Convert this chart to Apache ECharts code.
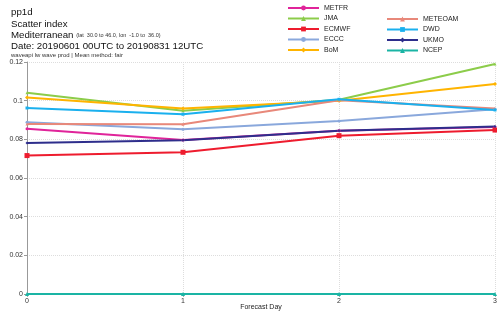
<!DOCTYPE html>
<html>
<head>
<meta charset="utf-8">
<script src="https://cdn.jsdelivr.net/npm/echarts@6/dist/echarts.min.js"></script>
<style>
  html, body { margin: 0; padding: 0; background: #fff; }
  #chart { width: 497px; height: 316px; }
</style>
</head>
<body>
<div id="chart"></div>
<script>
const days = [0, 1, 2, 3]
const yTicks = [0, 0.02, 0.04, 0.06, 0.08, 0.1, 0.12]

const metfr = [0.0855, 0.0797, 0.0845, 0.0864]
const jma = [0.1041, 0.0948, 0.1005, 0.119]
const ecmwf = [0.0716, 0.0733, 0.0819, 0.0848]
const eccc = [0.0888, 0.0852, 0.0895, 0.0955]
const bom = [0.1016, 0.0959, 0.0999, 0.1086]
const meteoam = [0.0879, 0.0878, 0.1002, 0.0959]
const dwd = [0.0962, 0.093, 0.1007, 0.0952]
const ukmo = [0.0781, 0.0795, 0.0845, 0.0866]
const ncep = [0, 0, 0, 0]

const models = [
  { name: 'METFR', data: metfr, color: '#e0249a', symbol: 'circle', size: 3 },
  { name: 'JMA', data: jma, color: '#8ccc4a', symbol: 'triangle', size: 3 },
  { name: 'ECMWF', data: ecmwf, color: '#ee1c2e', symbol: 'rect', size: 5 },
  { name: 'ECCC', data: eccc, color: '#8aa8dc', symbol: 'circle', size: 3 },
  { name: 'BoM', data: bom, color: '#ffb400', symbol: 'diamond', size: 4 },
  { name: 'METEOAM', data: meteoam, color: '#e8887a', symbol: 'triangle', size: 3 },
  { name: 'DWD', data: dwd, color: '#1ab0ee', symbol: 'rect', size: 3 },
  { name: 'UKMO', data: ukmo, color: '#2e2e8c', symbol: 'diamond', size: 3 },
  { name: 'NCEP', data: ncep, color: '#1ab4a4', symbol: 'triangle', size: 4 }
]

const chart = echarts.init(document.getElementById('chart'))

const legendText = { fontSize: 7, color: '#222', fontFamily: 'Liberation Sans' }
const titleFont = { fontSize: 9.7, fontWeight: 'normal', fontFamily: 'Liberation Sans', color: '#111' }

// one title per header line, so the line spacing stays tight
const titleLine = (top, text, style) => ({
  left: 11, top: top, padding: 0, text: text,
  textStyle: Object.assign({}, titleFont, style || {})
})

const option = {
  animation: false,
  title: [
    titleLine(7.5, 'pp1d'),
    titleLine(19, 'Scatter index'),
    titleLine(30.5, '{a|Mediterranean} {s|(lat  30.0 to 46.0, lon  -1.0 to  36.0)}', {
      rich: {
        a: { fontSize: 9.7, fontFamily: 'Liberation Sans', color: '#111' },
        s: { fontSize: 5.5, fontFamily: 'Liberation Sans', color: '#333' }
      }
    }),
    titleLine(41.5, 'Date: 20190601 00UTC to 20190831 12UTC'),
    titleLine(52.5, 'waveapi lw wave prod | Mean method: fair', { fontSize: 6, color: '#333' })
  ],
  legend: [
    {
      orient: 'vertical',
      left: 287,
      top: 4.5,
      padding: 0,
      itemWidth: 31,
      itemHeight: 6,
      itemGap: 3.5,
      textStyle: legendText,
      data: ['METFR', 'JMA', 'ECMWF', 'ECCC', 'BoM']
    },
    {
      orient: 'vertical',
      left: 386,
      top: 15.5,
      padding: 0,
      itemWidth: 31,
      itemHeight: 6,
      itemGap: 3.5,
      textStyle: legendText,
      data: ['METEOAM', 'DWD', 'UKMO', 'NCEP']
    }
  ],
  grid: { left: 27, right: 2, top: 62, bottom: 22, outerBoundsMode: 'none' },
  xAxis: {
    type: 'value',
    min: 0,
    max: 3,
    interval: 1,
    name: 'Forecast Day',
    nameLocation: 'middle',
    nameGap: 10,
    nameMoveOverlap: false,
    nameTextStyle: { fontSize: 7, color: '#222', fontFamily: 'Liberation Sans' },
    axisLine: { lineStyle: { color: '#aaa' } },
    axisTick: { length: 3, lineStyle: { color: '#aaa' } },
    axisLabel: { fontSize: 7, color: '#333', margin: 4, fontFamily: 'Liberation Sans' },
    splitLine: { show: true, lineStyle: { color: '#ddd', type: 'dotted' } }
  },
  yAxis: {
    type: 'value',
    min: 0,
    max: 0.12,
    interval: 0.02,
    axisLine: { show: true, lineStyle: { color: '#999' } },
    axisTick: { show: true, length: 3, lineStyle: { color: '#999' } },
    axisLabel: {
      fontSize: 7, color: '#333', margin: 4, fontFamily: 'Liberation Sans',
      hideOverlap: false,
      formatter: v => String(+v.toFixed(2))
    },
    splitLine: { show: true, lineStyle: { color: '#ddd', type: 'dotted' } }
  },
  series: models.map(m => ({
    name: m.name,
    type: 'line',
    data: days.map((d, i) => [d, m.data[i]]),
    symbol: m.symbol,
    symbolSize: m.size,
    showSymbol: true,
    color: m.color,
    lineStyle: { width: 2, color: m.color },
    itemStyle: { color: m.color },
    z: m.name === 'NCEP' ? 0 : 2
  }))
}

option && chart.setOption(option)
</script>
</body>
</html>
